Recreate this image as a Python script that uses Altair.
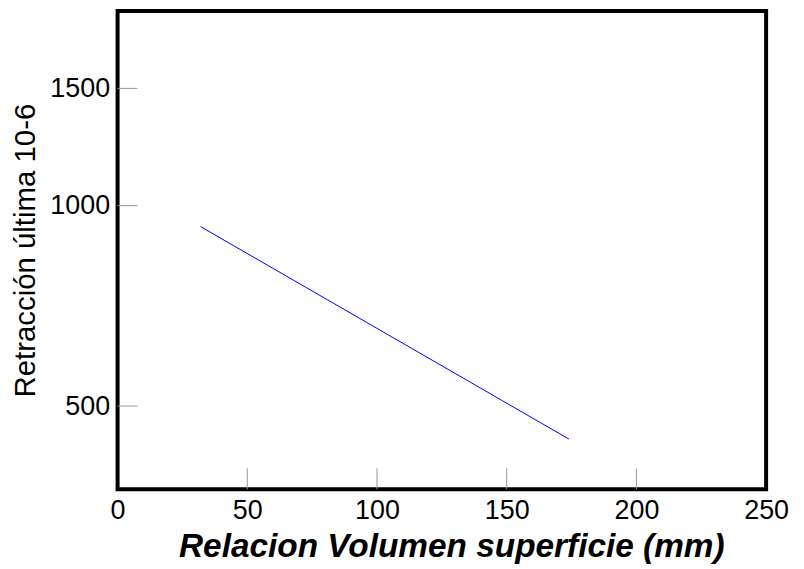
import altair as alt
import pandas as pd

# data
vs = [32, 174]
ret = [930, 446]
x_ticks = [50, 100, 150, 200]
y_ticks = [500, 1000, 1500]

FONT = "Liberation Sans"

line_df = pd.DataFrame({"vs": vs, "ret": ret})
xt_df = pd.DataFrame({"vs": x_ticks})
yt_df = pd.DataFrame({"ret": y_ticks})

xscale = alt.Scale(domain=[0, 250], nice=False, zero=False)
yscale = alt.Scale(type="log", domain=[375, 1960], nice=False)

line = alt.Chart(line_df).mark_line(color="#0000ff", strokeWidth=1).encode(
    x=alt.X("vs:Q", scale=xscale,
            axis=alt.Axis(title="Relacion Volumen superficie (mm)",
                          values=[0, 50, 100, 150, 200, 250], format="d",
                          ticks=False, domain=False, grid=False,
                          labelFontSize=27, labelFont=FONT, labelColor="black",
                          labelPadding=8, labelFlush=False,
                          titleFont=FONT, titleFontSize=33.5, titleFontWeight="bold",
                          titleFontStyle="italic", titleColor="black",
                          titlePadding=8, titleX=335)),
    y=alt.Y("ret:Q", scale=yscale,
            axis=alt.Axis(title="Retracción última 10-6",
                          values=y_ticks, format="d",
                          ticks=False, domain=False, grid=False,
                          labelFontSize=27, labelFont=FONT, labelColor="black",
                          labelPadding=8,
                          titleFont=FONT, titleFontSize=29.5, titleFontWeight="normal",
                          titleColor="black", titlePadding=9)),
)

xt = alt.Chart(xt_df).mark_rule(color="#999999", strokeWidth=1).encode(
    x=alt.X("vs:Q", scale=xscale),
    y=alt.value(480),
    y2=alt.value(459),
)

yt = alt.Chart(yt_df).mark_rule(color="#999999", strokeWidth=1).encode(
    y=alt.Y("ret:Q", scale=yscale),
    x=alt.value(0),
    x2=alt.value(20),
)

chart = alt.layer(xt, yt, line).properties(
    width=651, height=480,
    background="white",
    autosize=alt.AutoSizeParams(type="none"),
    padding={"left": 110, "top": 2, "right": 30, "bottom": 75},
).configure_view(stroke="black", strokeWidth=4)

chart.save("out.html", embed_options={"renderer": "svg", "actions": False})
